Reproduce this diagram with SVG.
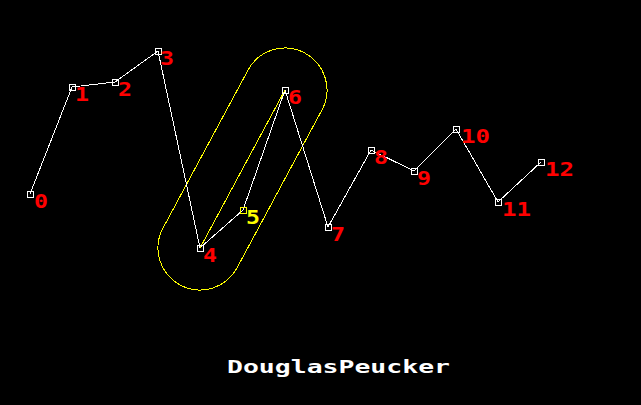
<svg xmlns="http://www.w3.org/2000/svg" width="641" height="405" viewBox="0 0 641 405">
<style>
.edge{stroke:#fff;stroke-width:1;fill:none;shape-rendering:crispEdges}
.pt{fill:none;stroke:#fff;stroke-width:1;shape-rendering:crispEdges}
.lbl{font-family:"DejaVu Sans Mono","Liberation Mono",monospace;font-weight:bold;font-size:19px;fill:#f00}
.y{fill:#ff0}
.ys{stroke:#ff0}
</style>
<rect width="641" height="405" fill="#000"/>
<g id="capsule">
<path d="M236.99,267.9 L321.99,109.9 A42,42 0 0 0 248.01,70.1 L163.01,228.1 A42,42 0 0 0 236.99,267.9 Z" fill="none" stroke="#ff0" stroke-width="1" shape-rendering="crispEdges"/>
</g>
<g id="connectors">
<polyline class="edge" points="30,194 72,87 115,82 158,51 200,248 243,210 285,90 328,227 371,150 414,171 456,129 498,202 541,162"/>
<line x1="200" y1="248" x2="285" y2="90" stroke="#ff0" stroke-width="1" shape-rendering="crispEdges"/>
</g>
<g id="n0"><rect class="pt" x="27.5" y="191.5" width="6" height="6"/><text class="lbl" x="34" y="208" textLength="14" lengthAdjust="spacingAndGlyphs">0</text></g>
<g id="n1"><rect class="pt" x="69.5" y="84.5" width="6" height="6"/><text class="lbl" x="75" y="101" textLength="14" lengthAdjust="spacingAndGlyphs">1</text></g>
<g id="n2"><rect class="pt" x="112.5" y="79.5" width="6" height="6"/><text class="lbl" x="118" y="96" textLength="14" lengthAdjust="spacingAndGlyphs">2</text></g>
<g id="n3"><rect class="pt" x="155.5" y="48.5" width="6" height="6"/><text class="lbl" x="160" y="65" textLength="14" lengthAdjust="spacingAndGlyphs">3</text></g>
<g id="n4"><rect class="pt" x="197.5" y="245.5" width="6" height="6"/><text class="lbl" x="203" y="262" textLength="14" lengthAdjust="spacingAndGlyphs">4</text></g>
<g id="n5"><rect class="pt ys" x="240.5" y="207.5" width="6" height="6"/><text class="lbl y" x="246" y="224" textLength="14" lengthAdjust="spacingAndGlyphs">5</text></g>
<g id="n6"><rect class="pt" x="282.5" y="87.5" width="6" height="6"/><text class="lbl" x="288" y="104" textLength="14" lengthAdjust="spacingAndGlyphs">6</text></g>
<g id="n7"><rect class="pt" x="325.5" y="224.5" width="6" height="6"/><text class="lbl" x="331" y="241" textLength="14" lengthAdjust="spacingAndGlyphs">7</text></g>
<g id="n8"><rect class="pt" x="368.5" y="147.5" width="6" height="6"/><text class="lbl" x="374" y="164" textLength="14" lengthAdjust="spacingAndGlyphs">8</text></g>
<g id="n9"><rect class="pt" x="411.5" y="168.5" width="6" height="6"/><text class="lbl" x="417" y="185" textLength="14" lengthAdjust="spacingAndGlyphs">9</text></g>
<g id="n10"><rect class="pt" x="453.5" y="126.5" width="6" height="6"/><text class="lbl" x="461" y="143" textLength="29" lengthAdjust="spacingAndGlyphs">10</text></g>
<g id="n11"><rect class="pt" x="495.5" y="199.5" width="6" height="6"/><text class="lbl" x="502" y="216" textLength="29" lengthAdjust="spacingAndGlyphs">11</text></g>
<g id="n12"><rect class="pt" x="538.5" y="159.5" width="6" height="6"/><text class="lbl" x="545" y="176" textLength="29" lengthAdjust="spacingAndGlyphs">12</text></g>
<g id="title"><text x="227" y="373" font-family="DejaVu Sans Mono,Liberation Mono,monospace" font-weight="bold" font-size="18" fill="#fff" textLength="223" lengthAdjust="spacingAndGlyphs">DouglasPeucker</text></g>
</svg>
